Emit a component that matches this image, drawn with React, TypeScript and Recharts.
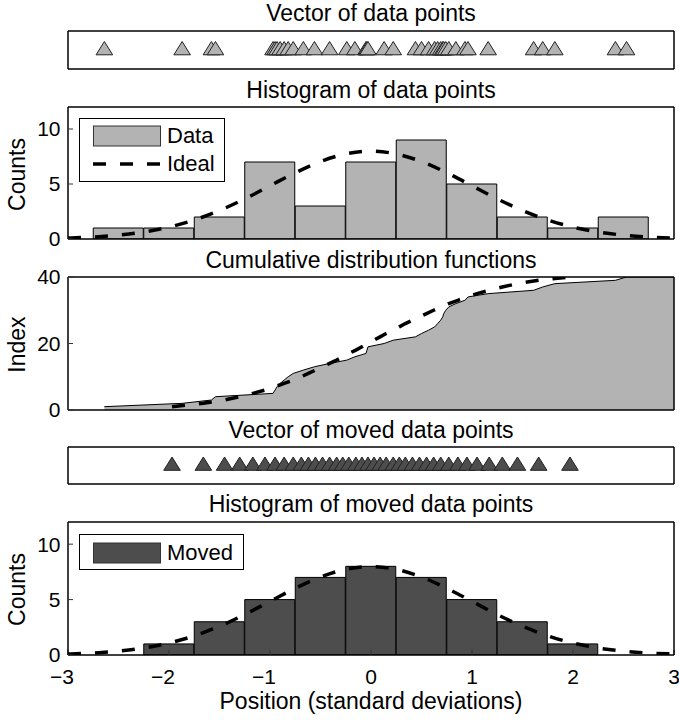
import { Area, Bar, ComposedChart, Legend, Line, Scatter, XAxis, YAxis } from "recharts"

const FONT = '"Liberation Sans", Arial, Helvetica, sans-serif'

// shared x range (standard deviations)
const X_MIN = -3
const X_MAX = 3
const X_TICKS = [-3, -2, -1, 0, 1, 2, 3]

// raw data points, sorted
const dataPoints = [
  -2.64, -1.87, -1.58, -1.54, -0.97, -0.95, -0.93, -0.9, -0.86, -0.82,
  -0.77, -0.67, -0.56, -0.41, -0.24, -0.16, -0.05, -0.04, -0.03, 0.13,
  0.22, 0.44, 0.5, 0.57, 0.63, 0.66, 0.69, 0.71, 0.72, 0.74,
  0.77, 0.84, 0.93, 0.96, 1.16, 1.61, 1.7, 1.82, 2.42, 2.53,
]

// moved data points (evenly spaced in probability)
const movedPoints = [
  -1.97, -1.66, -1.45, -1.3, -1.17, -1.05, -0.95, -0.86, -0.77, -0.69,
  -0.62, -0.55, -0.48, -0.41, -0.34, -0.28, -0.22, -0.15, -0.09, -0.03,
  0.03, 0.09, 0.15, 0.22, 0.28, 0.34, 0.41, 0.48, 0.55, 0.62,
  0.69, 0.77, 0.86, 0.95, 1.05, 1.17, 1.3, 1.45, 1.66, 1.97,
]

// histogram bins
const binCenters = [-2.5, -2, -1.5, -1, -0.5, 0, 0.5, 1, 1.5, 2, 2.5]
const dataCounts = [1, 1, 2, 7, 3, 7, 9, 5, 2, 1, 2]
const movedCounts = [0, 1, 3, 5, 7, 8, 7, 5, 3, 1, 0]

// ideal (normal) curve in counts per bin
const idealX = [
  -3, -2.75, -2.5, -2.25, -2, -1.75, -1.5, -1.25, -1, -0.75, -0.5, -0.25, 0,
  0.25, 0.5, 0.75, 1, 1.25, 1.5, 1.75, 2, 2.25, 2.5, 2.75, 3,
]
const idealY = [
  0.09, 0.18, 0.35, 0.63, 1.08, 1.73, 2.59, 3.65, 4.84, 6.02, 7.04, 7.73, 7.98,
  7.73, 7.04, 6.02, 4.84, 3.65, 2.59, 1.73, 1.08, 0.63, 0.35, 0.18, 0.09,
]

const LIGHT = "#b3b3b3"
const DARK = "#4d4d4d"
const FRAME = { stroke: "#000", strokeWidth: 1.5 }
const TICK_LINE = { stroke: "#333", strokeWidth: 1 }
const DASH = "13 14"
const W = 679
const LEFT_W = 68
const RIGHT_W = 5
const PAD = 12
const X_AXIS_H = 40
const TEXT_SIZE = 23

const dataBins = binCenters.map((x, i) => ({ x, count: dataCounts[i] }))
const movedBins = binCenters.map((x, i) => ({ x, count: movedCounts[i] }))
const idealCurve = idealX.map((x, i) => ({ x, y: idealY[i] }))
const dataStrip = dataPoints.map((x) => ({ x, y: 0.5 }))
const movedStrip = movedPoints.map((x) => ({ x, y: 0.5 }))
const cdfData = [...dataPoints.map((x, i) => ({ x, y: i + 1 })), { x: X_MAX, y: dataPoints.length }]
const cdfMoved = movedPoints.map((x, i) => ({ x, y: i + 1 }))

const triangle = (fill: string) => (p: any) => {
  const { cx, cy } = p
  return (
    <polygon
      points={`${cx},${cy - 8.5} ${cx - 8.3},${cy + 4.8} ${cx + 8.3},${cy + 4.8}`}
      fill={fill}
      stroke="#222"
      strokeWidth={1}
    />
  )
}

function XTick(props: any) {
  const { x, y, payload } = props
  const v = payload.value
  const neg = v < 0
  return (
    <text
      x={neg ? x + 6 : x}
      y={y}
      dy="0.71em"
      textAnchor={neg ? "end" : "middle"}
      fill="#000"
      fontSize={21}
      fontFamily={FONT}
    >
      {neg ? "\u2212" + Math.abs(v) : v}
    </text>
  )
}

// the axes only draw the box and the inward ticks; x axes are 1px tall when unlabeled
function frameAxes(yDomain: number[], yTicks: number[], xLabels = false) {
  const hasY = yTicks.length > 0
  return [
    <XAxis
      key="xb"
      type="number"
      dataKey="x"
      domain={[X_MIN, X_MAX]}
      ticks={X_TICKS}
      interval={0}
      allowDataOverflow
      height={xLabels ? X_AXIS_H : 1}
      axisLine={FRAME}
      tickLine={TICK_LINE}
      tickSize={-5}
      tickMargin={19}
      tick={xLabels ? <XTick /> : false}
    />,
    <XAxis
      key="xt"
      xAxisId="top"
      orientation="top"
      type="number"
      domain={[X_MIN, X_MAX]}
      ticks={X_TICKS}
      interval={0}
      allowDataOverflow
      height={1}
      axisLine={FRAME}
      tickLine={TICK_LINE}
      tickSize={-5}
      tick={false}
    />,
    <YAxis
      key="yl"
      type="number"
      dataKey="y"
      domain={yDomain}
      ticks={hasY ? yTicks : undefined}
      interval={0}
      allowDataOverflow
      width={LEFT_W}
      axisLine={FRAME}
      tickLine={hasY ? TICK_LINE : false}
      tickSize={-5}
      tickMargin={12.5}
      tick={hasY ? { fill: "#000", fontSize: 21, fontFamily: FONT } : false}
    />,
    <YAxis
      key="yr"
      yAxisId="right"
      orientation="right"
      type="number"
      domain={yDomain}
      ticks={hasY ? yTicks : undefined}
      interval={0}
      allowDataOverflow
      width={RIGHT_W}
      axisLine={FRAME}
      tickLine={hasY ? TICK_LINE : false}
      tickSize={-5}
      tick={false}
    />,
  ]
}

type LegendRow = { label: string; kind: "patch" | "dash"; fill?: string; top: number }

function LegendBox({ rows, width, height }: { rows: LegendRow[]; width: number; height: number }) {
  return (
    <div
      style={{
        width,
        height,
        boxSizing: "border-box",
        border: "1px solid #000",
        background: "#fff",
        position: "relative",
        fontFamily: FONT,
        fontSize: 22,
        color: "#000",
      }}
    >
      {rows.map((r) => (
        <div
          key={r.label}
          style={{ position: "absolute", left: 13, top: r.top, height: 22, display: "flex", alignItems: "center" }}
        >
          <svg width={68} height={22} style={{ display: "block" }}>
            {r.kind === "patch" ? (
              <rect x={0.5} y={1} width={67} height={20} fill={r.fill} stroke="#333" strokeWidth={1} />
            ) : (
              <line x1={0} x2={68} y1={11} y2={11} stroke="#000" strokeWidth={3.5} strokeDasharray={DASH} />
            )}
          </svg>
          <span style={{ marginLeft: 6, lineHeight: "22px", whiteSpace: "nowrap" }}>{r.label}</span>
        </div>
      ))}
    </div>
  )
}

function Title({ text, baseline }: { text: string; baseline: number }) {
  return (
    <div
      style={{
        position: "absolute",
        left: LEFT_W,
        width: W - LEFT_W - RIGHT_W,
        top: baseline - 0.846 * TEXT_SIZE,
        fontSize: TEXT_SIZE,
        lineHeight: `${TEXT_SIZE}px`,
        textAlign: "center",
        whiteSpace: "nowrap",
      }}
    >
      {text}
    </div>
  )
}

function YLabel({ text, cy }: { text: string; cy: number }) {
  return (
    <div
      style={{
        position: "absolute",
        left: 17 - 100,
        top: cy - TEXT_SIZE / 2,
        width: 200,
        height: TEXT_SIZE,
        fontSize: TEXT_SIZE,
        lineHeight: `${TEXT_SIZE}px`,
        textAlign: "center",
        transform: "rotate(-90deg)",
        whiteSpace: "nowrap",
      }}
    >
      {text}
    </div>
  )
}

function BarsLayer({ top, plotH, data, fill, extraBottom = 0 }: any) {
  return (
    <div style={{ position: "absolute", left: 0, top: top - PAD }}>
      <ComposedChart
        width={W}
        height={plotH + 2 * PAD + extraBottom}
        data={data}
        margin={{ top: PAD, right: RIGHT_W, bottom: PAD + extraBottom, left: LEFT_W }}
        barCategoryGap={0}
        barGap={0}
      >
        <XAxis type="number" dataKey="x" domain={[X_MIN, X_MAX]} hide allowDataOverflow />
        <YAxis type="number" domain={[0, 12]} hide allowDataOverflow />
        <Bar dataKey="count" fill={fill} stroke="#000" strokeWidth={1} isAnimationActive={false} />
      </ComposedChart>
    </div>
  )
}

export default function App() {
  // plot rectangles: top edge and height of each panel
  const p1 = { top: 31, h: 38 }
  const p2 = { top: 107, h: 132 }
  const p3 = { top: 277, h: 133 }
  const p4 = { top: 447, h: 37 }
  const p5 = { top: 522, h: 133 }
  const margin = { top: PAD - 1, right: 0, bottom: PAD - 1, left: 0 }
  const marginLast = { top: PAD - 1, right: 0, bottom: PAD, left: 0 }

  return (
    <div
      style={{
        position: "absolute",
        left: 0,
        top: 0,
        width: W,
        height: 720,
        background: "#fff",
        fontFamily: FONT,
        color: "#000",
        overflow: "hidden",
      }}
    >
      <Title text="Vector of data points" baseline={21} />
      <div style={{ position: "absolute", left: 0, top: p1.top - PAD }}>
        <ComposedChart width={W} height={p1.h + 2 * PAD} margin={margin}>
          {frameAxes([0, 1], [])}
          <Scatter data={dataStrip} shape={triangle(LIGHT)} isAnimationActive={false} />
        </ComposedChart>
      </div>

      <Title text="Histogram of data points" baseline={98} />
      <YLabel text="Counts" cy={p2.top + p2.h / 2 + 1} />
      <BarsLayer top={p2.top} plotH={p2.h} data={dataBins} fill={LIGHT} />
      <div style={{ position: "absolute", left: 0, top: p2.top - PAD }}>
        <ComposedChart width={W} height={p2.h + 2 * PAD} data={idealCurve} margin={margin}>
          {frameAxes([0, 12], [0, 5, 10])}
          <Line
            type="monotone"
            dataKey="y"
            stroke="#000"
            strokeWidth={3.5}
            strokeDasharray={DASH}
            dot={false}
            isAnimationActive={false}
          />
          <Legend
            layout="vertical"
            align="center"
            verticalAlign="middle"
            wrapperStyle={{ left: 79, top: 118 - (p2.top - PAD), width: 146, height: 64 }}
            content={() => (
              <LegendBox
                width={146}
                height={64}
                rows={[
                  { label: "Data", kind: "patch", fill: LIGHT, top: 6 },
                  { label: "Ideal", kind: "dash", top: 34 },
                ]}
              />
            )}
          />
        </ComposedChart>
      </div>

      <Title text="Cumulative distribution functions" baseline={268} />
      <YLabel text="Index" cy={p3.top + p3.h / 2 + 1} />
      <div style={{ position: "absolute", left: 0, top: p3.top - PAD }}>
        <ComposedChart width={W} height={p3.h + 2 * PAD} data={cdfData} margin={margin}>
          {frameAxes([0, 40], [0, 20, 40])}
          <Area
            type="linear"
            dataKey="y"
            fill={LIGHT}
            fillOpacity={1}
            stroke="#000"
            strokeWidth={1}
            isAnimationActive={false}
          />
          <Line
            data={cdfMoved}
            type="linear"
            dataKey="y"
            stroke="#000"
            strokeWidth={3.5}
            strokeDasharray={DASH}
            dot={false}
            isAnimationActive={false}
          />
        </ComposedChart>
      </div>

      <Title text="Vector of moved data points" baseline={438} />
      <div style={{ position: "absolute", left: 0, top: p4.top - PAD }}>
        <ComposedChart width={W} height={p4.h + 2 * PAD} margin={margin}>
          {frameAxes([0, 1], [])}
          <Scatter data={movedStrip} shape={triangle(DARK)} isAnimationActive={false} />
        </ComposedChart>
      </div>

      <Title text="Histogram of moved data points" baseline={512} />
      <YLabel text="Counts" cy={p5.top + p5.h / 2 + 1} />
      <BarsLayer top={p5.top} plotH={p5.h} data={movedBins} fill={DARK} extraBottom={X_AXIS_H} />
      <div style={{ position: "absolute", left: 0, top: p5.top - PAD }}>
        <ComposedChart
          width={W}
          height={p5.h + 2 * PAD + X_AXIS_H}
          data={idealCurve}
          margin={marginLast}
        >
          {frameAxes([0, 12], [0, 5, 10], true)}
          <Line
            type="monotone"
            dataKey="y"
            stroke="#000"
            strokeWidth={3.5}
            strokeDasharray={DASH}
            dot={false}
            isAnimationActive={false}
          />
          <Legend
            layout="vertical"
            align="center"
            verticalAlign="middle"
            wrapperStyle={{ left: 79, top: 534 - (p5.top - PAD), width: 165, height: 36 }}
            content={() => (
              <LegendBox
                width={165}
                height={36}
                rows={[{ label: "Moved", kind: "patch", fill: DARK, top: 6.5 }]}
              />
            )}
          />
        </ComposedChart>
      </div>

      <Title text="Position (standard deviations)" baseline={709} />
    </div>
  )
}
